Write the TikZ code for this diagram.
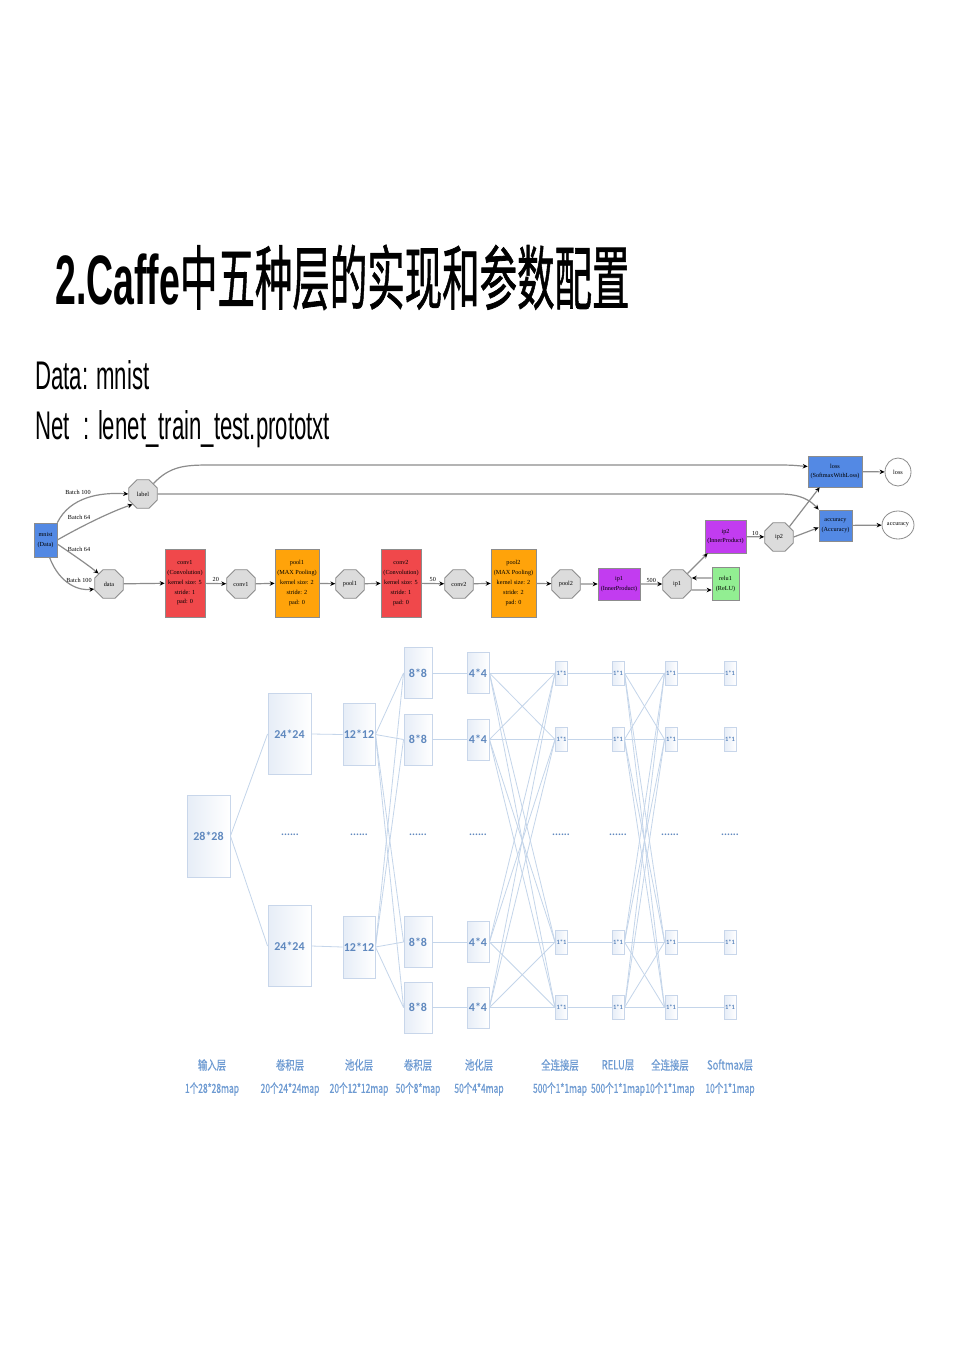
\documentclass[tikz,border=0pt]{standalone}
\usepackage{fontspec}
\setmainfont{Liberation Sans}
\newfontfamily\cjk{Noto Sans CJK SC}
\newfontfamily\cjkfb{Noto Sans CJK SC}[FakeBold=1.2]
\newfontfamily\cjklab{Noto Sans CJK SC}[FakeBold=0.8]
\newfontfamily\gserif{Liberation Serif}
\newfontfamily\calfont{Carlito}
\usetikzlibrary{shapes.geometric,arrows.meta}
\definecolor{gblue}{HTML}{5389E4}
\definecolor{gred}{HTML}{F0484B}
\definecolor{gorange}{HTML}{FFA30A}
\definecolor{gpurple}{HTML}{C23CF0}
\definecolor{ggreen}{HTML}{92EE92}
\definecolor{gline}{HTML}{8C8C8C}
\definecolor{gblob}{HTML}{DCDCDC}
\definecolor{nbd}{HTML}{C8D6EA}
\definecolor{nfill}{HTML}{E6EDF7}
\definecolor{nline}{HTML}{C4D5EA}
\definecolor{ntext}{HTML}{5F88BE}
\definecolor{nlab}{HTML}{6E9BD2}
\tikzset{
  gedge/.style={draw=gline, line width=1.2pt, -{Stealth[length=5pt,width=4.5pt,black]}},
  gtext/.style={font=\gserif\fontsize{6.2}{9.8}\selectfont, align=center},
  layerbox/.style={gtext, rectangle, draw=gline, line width=0.6pt, inner sep=0pt},
  blob/.style={gtext, regular polygon, regular polygon sides=8, minimum size=31pt, inner sep=0pt, draw=gline, line width=0.8pt, fill=gblob},
  outell/.style={gtext, ellipse, draw=gline, line width=0.8pt, fill=white, inner sep=0pt},
  elabel/.style={gtext, inner sep=1pt},
  nbox/.style={rectangle, draw=nbd, line width=0.9pt, left color=nfill, right color=white, inner sep=0pt, text=ntext, font=\calfont\bfseries\fontsize{12}{14}\selectfont},
  tinybox/.style={nbox, minimum width=12pt, minimum height=24pt, font=\calfont\bfseries\fontsize{6.5}{7}\selectfont},
  nlink/.style={draw=nline, line width=0.8pt},
  ndots/.style={text=ntext, font=\calfont\bfseries\fontsize{11}{12}\selectfont, inner sep=0pt},
  nlabel/.style={text=nlab, font=\cjklab\fontsize{12.5}{14}\selectfont, inner sep=0pt}
}
\begin{document}
\begin{tikzpicture}[x=1pt,y=-1pt]
\fill[white] (0,0) rectangle (960,1357);
\useasboundingbox (0,0) rectangle (960,1357);

% ---------- titles ----------
\node[anchor=base west, inner sep=0pt] (title) at (55,304)
  {\fontsize{70}{80}\selectfont\scalebox{0.535}[1]{{\bfseries 2.Caffe}{\cjkfb\mdseries 中五种层的实现和参数配置}}};
\node[anchor=base west, inner sep=0pt] (data) at (35,389)
  {\fontsize{40}{46}\selectfont\scalebox{0.555}[1]{Data: mnist}};
\node[anchor=base west, inner sep=0pt] (net) at (35,439)
  {\fontsize{40}{46}\selectfont\scalebox{0.555}[1]{Net\hspace{0.35em} : lenet\_train\_test.prototxt}};

% ---------- graphviz net ----------
\node[layerbox, fill=gblue, minimum width=23pt, minimum height=34pt] (mnist) at (45.5,540) {mnist\\(Data)};
\node[blob] (label) at (143,494) {label};
\node[blob] (datab) at (109,584) {data};
\node[layerbox, fill=gred, minimum width=40pt, minimum height=68pt] (conv1) at (185,583)
  {conv1\\(Convolution)\\kernel size: 5\\stride: 1\\pad: 0};
\node[blob] (conv1b) at (241,584) {conv1};
\node[layerbox, fill=gorange, minimum width=44pt, minimum height=68pt] (pool1) at (297,583)
  {pool1\\(MAX Pooling)\\kernel size: 2\\stride: 2\\pad: 0};
\node[blob] (pool1b) at (350,584) {pool1};
\node[layerbox, fill=gred, minimum width=40pt, minimum height=68pt] (conv2) at (401,583)
  {conv2\\(Convolution)\\kernel size: 5\\stride: 1\\pad: 0};
\node[blob] (conv2b) at (459,584) {conv2};
\node[layerbox, fill=gorange, minimum width=45pt, minimum height=68pt] (pool2) at (513.5,583)
  {pool2\\(MAX Pooling)\\kernel size: 2\\stride: 2\\pad: 0};
\node[blob] (pool2b) at (566,584) {pool2};
\node[layerbox, fill=gpurple, minimum width=42pt, minimum height=32pt] (ip1) at (619,584) {ip1\\(InnerProduct)};
\node[blob] (ip1b) at (677,584) {ip1};
\node[layerbox, fill=ggreen, minimum width=27pt, minimum height=33pt] (relu1) at (725.5,584) {relu1\\(ReLU)};
\node[layerbox, fill=gpurple, minimum width=41pt, minimum height=33pt] (ip2) at (725.5,536.5) {ip2\\(InnerProduct)};
\node[blob] (ip2b) at (779,537) {ip2};
\node[layerbox, fill=gblue, minimum width=54pt, minimum height=31pt] (loss) at (835,471.5) {loss\\(SoftmaxWithLoss)};
\node[layerbox, fill=gblue, minimum width=33pt, minimum height=31pt] (acc) at (835.5,525.5) {accuracy\\(Accuracy)};
\node[outell, minimum width=26pt, minimum height=28pt] (losse) at (898,472) {loss};
\node[outell, minimum width=32pt, minimum height=28pt] (acce) at (898,525) {accuracy};

\node[elabel] (lb1) at (78,492) {Batch 100};
\node[elabel] (lb2) at (79,517) {Batch 64};
\node[elabel] (lb3) at (79,549) {Batch 64};
\node[elabel] (lb4) at (79,580) {Batch 100};

\draw[gedge] (mnist.north east) .. controls (70,497) and (100,492) .. (label.west);
\draw[gedge] (mnist.east) .. controls (80,527) and (110,512) .. (label.south west);
\draw[gedge] ([yshift=-4pt]mnist.east) .. controls (75,556) and (88,565) .. (datab.north west);
\draw[gedge] ([xshift=4pt]mnist.south) .. controls (60,585) and (80,591) .. ([yshift=-5pt]datab.west);

\draw[gedge] (datab) -- (conv1);
\draw[gedge] (conv1) -- node[elabel, above] {20} (conv1b);
\draw[gedge] (conv1b) -- (pool1);
\draw[gedge] (pool1) -- (pool1b);
\draw[gedge] (pool1b) -- (conv2);
\draw[gedge] (conv2) -- node[elabel, above] {50} (conv2b);
\draw[gedge] (conv2b) -- (pool2);
\draw[gedge] (pool2) -- (pool2b);
\draw[gedge] (pool2b) -- (ip1);
\draw[gedge] (ip1) -- node[elabel, above] {500} (ip1b);
\draw[gedge] ([yshift=-6pt]ip1b.east) -- ([yshift=-6pt]relu1.west);
\draw[gedge] ([yshift=6pt]relu1.west) -- ([yshift=6pt]ip1b.east);
\draw[gedge] (ip1b.north east) -- ([xshift=3pt]ip2.south west);
\draw[gedge] (ip2) -- node[elabel, above] {10} (ip2b);
\draw[gedge] (ip2b.north east) -- ([xshift=12pt]loss.south west);
\draw[gedge] (ip2b.east) -- ([yshift=-2pt]acc.west);
\draw[gedge] (loss) -- (losse);
\draw[gedge] (acc) -- (acce);
\draw[gedge] (label.north east) .. controls (170,466) and (185,465) .. (210,465) -- (780,465)
  .. controls (795,465) and (800,466) .. ([yshift=5pt]loss.west);
\draw[gedge] (label.east) -- (780,494) .. controls (800,494) and (810,500) .. (acc.north west);

% ---------- LeNet structure sketch ----------
\node[nbox, minimum width=43pt, minimum height=82pt] (in) at (208.5,836) {28*28};
\node[nbox, minimum width=43pt, minimum height=81pt] (c24a) at (289.5,734) {24*24};
\node[nbox, minimum width=43pt, minimum height=81pt] (c24b) at (289.5,946) {24*24};
\node[nbox, minimum width=32pt, minimum height=62pt] (p12a) at (359,734.5) {12*12};
\node[nbox, minimum width=32pt, minimum height=62pt] (p12b) at (359,947) {12*12};
\foreach \i/\y in {1/673,2/739.5,3/942,4/1007.5}{
  \node[nbox, minimum width=28pt, minimum height=51pt] (c8-\i) at (418,\y) {8*8};
  \node[nbox, minimum width=22pt, minimum height=41pt] (p4-\i) at (478,\y) {4*4};
  \node[tinybox] (f1-\i) at (561.5,\y) {1*1};
  \node[tinybox] (r-\i) at (618,\y) {1*1};
  \node[tinybox] (f2-\i) at (671,\y) {1*1};
  \node[tinybox] (sm-\i) at (730,\y) {1*1};
}
\foreach \n/\x in {d1/290,d2/359,d3/418,d4/478,d5/561,d6/618,d7/670,d8/730}
  \node[ndots] (\n) at (\x,835) {......};

\draw[nlink] (in.east) -- (c24a.west);
\draw[nlink] (in.east) -- (c24b.west);
\draw[nlink] (c24a.east) -- (p12a.west);
\draw[nlink] (c24b.east) -- (p12b.west);
\foreach \i in {1,...,4}{
  \draw[nlink] (p12a.east) -- (c8-\i.west);
  \draw[nlink] (p12b.east) -- (c8-\i.west);
  \draw[nlink] (c8-\i.east) -- (p4-\i.west);
  \draw[nlink] (f1-\i.east) -- (r-\i.west);
  \draw[nlink] (f2-\i.east) -- (sm-\i.west);
  \foreach \j in {1,...,4}{
    \draw[nlink] (p4-\i.east) -- (f1-\j.west);
    \draw[nlink] (r-\i.east) -- (f2-\j.west);
  }
}

% labels
\foreach \n/\x/\a/\b in {
  l1/212/输入层/1个28*28map,
  l2/290/卷积层/20个24*24map,
  l3/359/池化层/20个12*12map,
  l4/418/卷积层/50个8*map,
  l5/479/池化层/50个4*4map,
  l6/560/全连接层/500个1*1map,
  l7/618/RELU层/500个1*1map,
  l8/670/全连接层/10个1*1map,
  l9/730/Softmax层/10个1*1map}{
  \node[nlabel] (\n a) at (\x,1065) {\scalebox{0.75}[1]{\a}};
  \node[nlabel] (\n b) at (\x,1089) {\scalebox{0.68}[1]{\b}};
}
\end{tikzpicture}
\end{document}
